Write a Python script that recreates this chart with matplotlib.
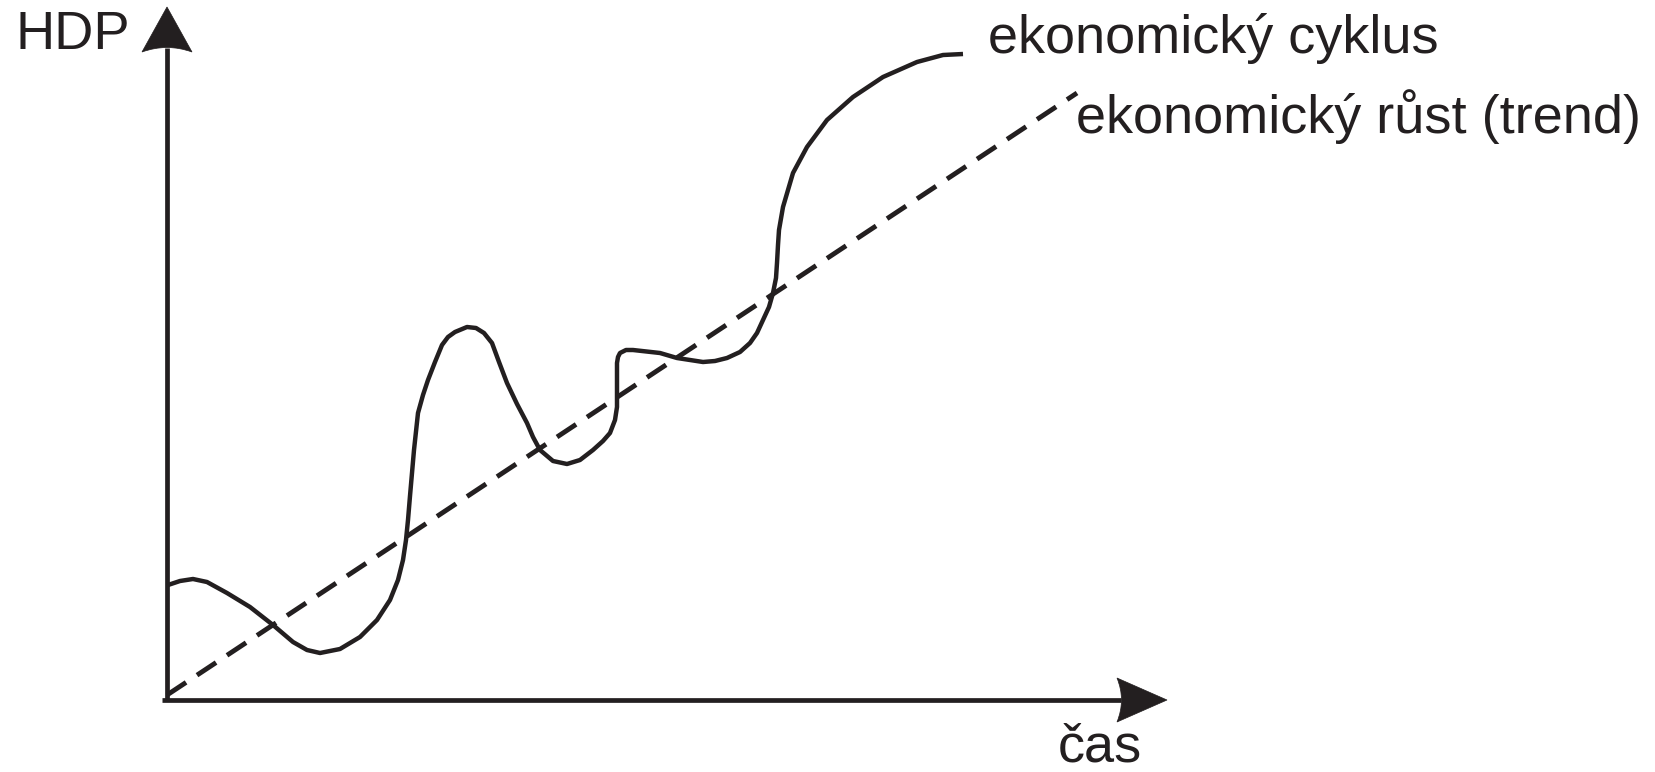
import matplotlib
matplotlib.use("Agg")
import matplotlib.pyplot as plt
from matplotlib.path import Path
from matplotlib.patches import PathPatch

plt.rcParams['font.family'] = ['Liberation Sans', 'DejaVu Sans']

INK = '#231f20'

# economic cycle curve (time, GDP) in diagram units, origin at the axes corner
cycle_t = [1, 13, 26, 40, 60, 83, 106, 126, 140, 153, 173, 193, 210, 223, 231,
           236, 239, 241, 243, 247, 251, 256, 261, 268, 275, 281, 288, 300, 309,
           317, 325, 332, 340, 350, 360, 366, 373, 386, 400, 413, 426, 436, 443,
           448, 450, 450, 450, 451, 453, 459, 466, 493, 510, 536, 548, 560, 573,
           583, 590, 596, 602, 606, 609, 610, 611, 612, 616, 626, 640, 660, 686,
           716, 750, 776, 796]
cycle_y = [115, 119, 121, 118, 107, 93, 75, 58, 50, 47, 51, 63, 80, 100, 120,
           140, 160, 180, 204, 250, 287, 305, 320, 338, 355, 363, 368, 373, 372,
           367, 357, 338, 317, 296, 277, 263, 250, 239, 236, 240, 250, 259, 267,
           280, 293, 320, 337, 343, 347, 350, 350, 347, 342, 338, 339, 342, 348,
           357, 367, 380, 393, 407, 422, 437, 455, 470, 493, 527, 553, 580, 603,
           623, 638, 645, 646]

# trend line (time, GDP)
trend_t = [0, 910]
trend_y = [5, 607]

y_label = 'HDP'
x_label = 'čas'
cycle_label = 'ekonomický cyklus'
trend_label = 'ekonomický růst (trend)'

fig = plt.figure(figsize=(16.56, 7.72), dpi=100)
ax = fig.add_axes([0, 0, 1, 1])
ax.set_xlim(-167, 1656 - 167)
ax.set_ylim(700 - 772, 700)
ax.axis('off')

# axes lines
x_end, y_end = 950, 648
ax.plot([-5, x_end + 4], [0, 0], color=INK, lw=3.4, solid_capstyle='butt')
ax.plot([0, 0], [0, y_end + 4], color=INK, lw=3.4, solid_capstyle='butt')

# arrowheads with concave back
def arrow_head(tip, back, half, horizontal):
    if horizontal:
        verts = [(tip, 0), (back, half), (back + 9, 0), (back, -half), (tip, 0)]
    else:
        verts = [(0, tip), (half, back), (0, back + 9), (-half, back), (0, tip)]
    codes = [Path.MOVETO, Path.LINETO, Path.CURVE3, Path.CURVE3, Path.CLOSEPOLY]
    ax.add_patch(PathPatch(Path(verts, codes), facecolor=INK, edgecolor=INK, lw=0.5))

arrow_head(x_end + 50, x_end, 22, True)
arrow_head(y_end + 45, y_end, 25, False)

# trend (dashed)
ax.plot(trend_t, trend_y, color=INK, lw=3.5, dashes=(4.7, 2.7), solid_capstyle='butt')
# cycle
ax.plot(cycle_t, cycle_y, color=INK, lw=3.2, solid_joinstyle='round',
        solid_capstyle='butt')

fs = 39
ax.text(-152, 651, y_label, fontsize=fs, color=INK, ha='left', va='baseline')
ax.text(891, -62, x_label, fontsize=fs, color=INK, ha='left', va='baseline')
ax.text(821, 647, cycle_label, fontsize=fs, color=INK, ha='left', va='baseline')
ax.text(909, 567, trend_label, fontsize=fs, color=INK, ha='left', va='baseline')

fig.savefig('out.png', dpi=100, facecolor='white')
